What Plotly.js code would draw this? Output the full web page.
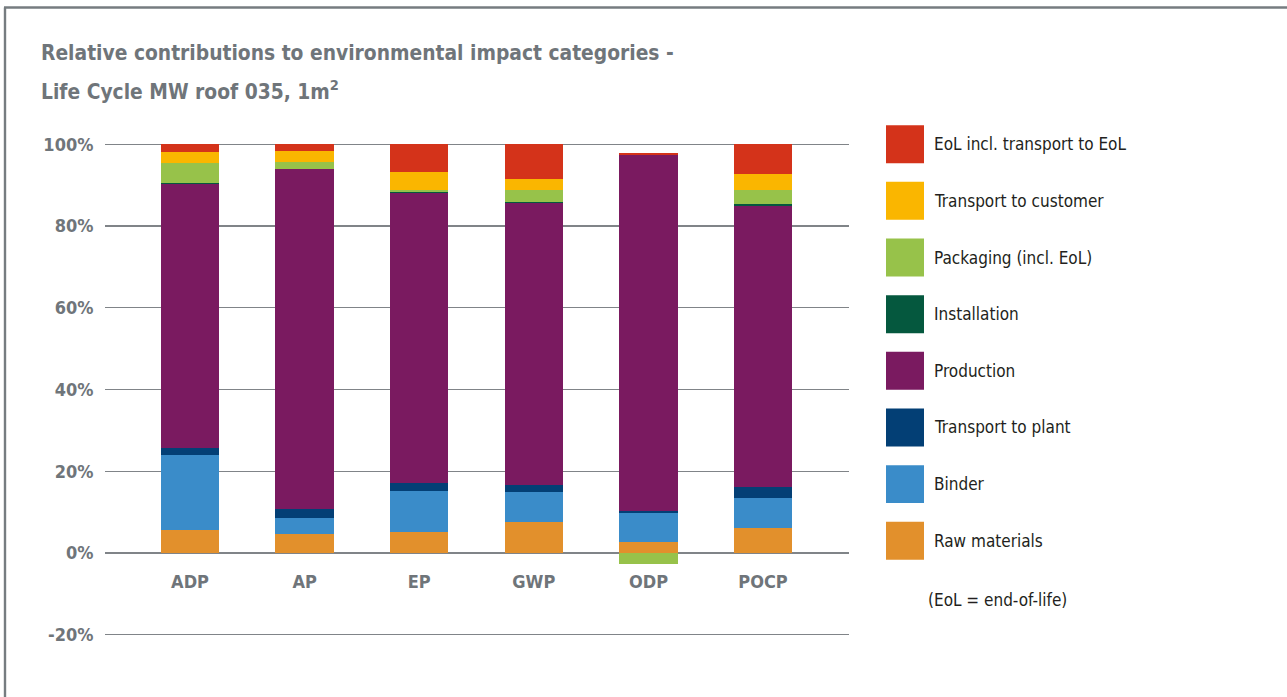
<!DOCTYPE html>
<html><head><meta charset="utf-8">
<script src="https://cdn.plot.ly/plotly-3.0.1.min.js"></script>
<style>html,body{margin:0;padding:0;background:#fff;} #chart{width:1287px;height:697px;}</style>
</head><body><div id="chart"></div>
<script>
// ---- data (percent contribution) ----
const categories = ['ADP', 'AP', 'EP', 'GWP', 'ODP', 'POCP'];
const rawMaterials        = [5.7, 4.7, 5.2, 7.6, 2.7, 6.1];
const binder              = [18.3, 3.9, 9.9, 7.4, 7.1, 7.3];
const transportToPlant    = [1.7, 2.2, 2.0, 1.7, 0.6, 2.7];
const production          = [64.6, 83.1, 70.9, 68.9, 87.0, 68.9];
const installation        = [0.1, 0.1, 0.2, 0.3, 0.0, 0.3];
const packaging           = [4.9, 1.7, 0.7, 2.8, -2.7, 3.4];
const transportToCustomer = [2.8, 2.7, 4.4, 2.9, 0.0, 3.9];
const eol                 = [1.9, 1.6, 6.7, 8.4, 0.5, 7.4];
const seriesNames = ['Raw materials', 'Binder', 'Transport to plant', 'Production', 'Installation',
                     'Packaging (incl. EoL)', 'Transport to customer', 'EoL incl. transport to EoL'];
const yTicks = [-20, 0, 20, 40, 60, 80, 100];
const yTickLabels = ['-20%', '0%', '20%', '40%', '60%', '80%', '100%'];
const titleLine1 = 'Relative contributions to environmental impact categories -';
const titleLine2 = 'Life Cycle MW roof 035, 1m<sup>2</sup>';
const footnote = '(EoL = end-of-life)';

// ---- styling ----
const seriesColors = ['#e2902c', '#3a8cc9', '#033f75', '#7a1a60', '#05583e', '#97c24a', '#fab600', '#d4331a'];
const FONT = "'Liberation Sans Narrow', 'Arial Narrow', 'DejaVu Sans Condensed', sans-serif";
const GREY = '#6f757a';
const LINE = '#808488';

const W = 1287, H = 697, L = 105, R = 849, T = 142.8, B = 636.2;
const pw = R - L, ph = B - T;
const px = x => (x - L) / pw;
const py = y => (B - y) / ph;

const seriesData = [rawMaterials, binder, transportToPlant, production, installation,
                    packaging, transportToCustomer, eol];
const traces = seriesData.map((vals, i) => ({
  type: 'bar', x: categories, y: vals, name: seriesNames[i],
  marker: {color: seriesColors[i], line: {width: 0}}, width: 0.51,
  hovertemplate: '%{x}: %{y}%<extra>' + seriesNames[i] + '</extra>'
}));

const shapes = [];
const annotations = [];
// frame (top + left)
shapes.push({type: 'line', xref: 'paper', yref: 'paper', x0: px(5), x1: px(5), y0: py(700), y1: py(7.2),
             line: {color: '#767c80', width: 2.4}});
shapes.push({type: 'line', xref: 'paper', yref: 'paper', x0: px(4), x1: px(1290), y0: py(7.2), y1: py(7.2),
             line: {color: '#767c80', width: 2.4}});

// title
annotations.push({xref: 'paper', yref: 'paper', x: px(39), y: py(53), xanchor: 'left', yanchor: 'middle',
  text: titleLine1, showarrow: false, font: {family: FONT, size: 20.8, color: GREY, weight: 'bold'}});
annotations.push({xref: 'paper', yref: 'paper', x: px(39), y: py(90), xanchor: 'left', yanchor: 'middle',
  text: titleLine2, showarrow: false, font: {family: FONT, size: 20.8, color: GREY, weight: 'bold'}});

// custom legend (top -> bottom is reverse of stacking order)
const boxTop0 = 125, step = 56.7, box = 38;
for (let k = 0; k < seriesNames.length; k++) {
  const i = seriesNames.length - 1 - k;
  const top = boxTop0 + k * step;
  shapes.push({type: 'rect', xref: 'paper', yref: 'paper', x0: px(886), x1: px(924), y0: py(top + box), y1: py(top),
               fillcolor: seriesColors[i], line: {width: 0}});
  annotations.push({xref: 'paper', yref: 'paper', x: px(932), y: py(top + box / 2), xanchor: 'left', yanchor: 'middle',
    text: seriesNames[i], showarrow: false, font: {family: FONT, size: 17, color: '#231f20'}});
}
annotations.push({xref: 'paper', yref: 'paper', x: px(926), y: py(600), xanchor: 'left', yanchor: 'middle',
  text: footnote, showarrow: false, font: {family: FONT, size: 17, color: '#231f20'}});

const layout = {
  width: W, height: H,
  margin: {l: L, r: W - R, t: T, b: H - B, pad: 0},
  paper_bgcolor: '#fff', plot_bgcolor: '#fff',
  barmode: 'relative', bargap: 0,
  showlegend: false,
  font: {family: FONT, color: GREY},
  xaxis: {
    type: 'category', range: [-0.742, 5.75], anchor: 'free', position: py(553),
    showgrid: false, zeroline: false, showline: false,
    ticks: 'outside', ticklen: 13, tickcolor: 'rgba(0,0,0,0)',
    tickfont: {family: FONT, size: 18, color: GREY, weight: 'bold'}
  },
  yaxis: {
    range: [-20.3, 100.3], tickmode: 'array', tickvals: yTicks, ticktext: yTickLabels,
    showgrid: true, gridcolor: LINE, gridwidth: 1.3,
    zeroline: true, zerolinecolor: LINE, zerolinewidth: 1.3, showline: false,
    ticks: 'outside', ticklen: 7, tickcolor: 'rgba(0,0,0,0)',
    tickfont: {family: FONT, size: 18, color: GREY, weight: 'bold'}
  },
  shapes: shapes, annotations: annotations
};

Plotly.newPlot('chart', traces, layout, {displayModeBar: false, staticPlot: true});
</script>
</body></html>
